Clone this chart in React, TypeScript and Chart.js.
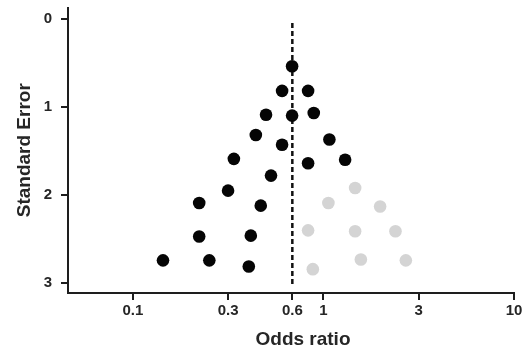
import React, { useEffect, useRef } from "react";
import { Chart, registerables } from "chart.js";

Chart.register(...registerables);

// Studies shown in black (observed)
const blackOR = [0.685, 0.607, 0.831, 0.5, 0.685, 0.89, 0.442, 0.607, 1.075, 0.339, 0.831, 1.3, 0.531, 0.316, 0.223, 0.469, 0.223, 0.416, 0.144, 0.252, 0.406];
const blackSE = [0.54, 0.82, 0.82, 1.09, 1.1, 1.07, 1.32, 1.43, 1.37, 1.59, 1.64, 1.6, 1.78, 1.95, 2.09, 2.12, 2.47, 2.46, 2.74, 2.74, 2.81];

// Studies shown in light grey (imputed)
const grayOR = [1.467, 1.062, 1.984, 0.831, 1.467, 2.388, 1.572, 2.707, 0.88];
const graySE = [1.92, 2.09, 2.13, 2.4, 2.41, 2.41, 2.73, 2.74, 2.84];

// Pooled estimate (dashed line) and its vertical extent
const pooledOR = 0.687;
const pooledLineSE = [0.05, 3.04];

// Axis ticks
const xTickValues = [0.1, 0.316, 0.687, 1, 3.16, 10];
const xTickLabels = ["0.1", "0.3", "0.6", "1", "3", "10"];
const yTickValues = [0, 1, 2, 3];

const xTitle = "Odds ratio";
const yTitle = "Standard Error";

const FONT = "'Liberation Sans', Arial, Helvetica, sans-serif";
const TEXT = "#262626";
const AXIS = "#1e1e1e";

const xTitlePlugin = {
  id: "xTitleShifted",
  afterDraw(chart: any) {
    const { ctx, chartArea } = chart;
    ctx.save();
    ctx.font = `bold 19px ${FONT}`;
    ctx.fillStyle = TEXT;
    ctx.textAlign = "center";
    ctx.textBaseline = "middle";
    ctx.fillText(xTitle, (chartArea.left + chartArea.right) / 2 + 12, chart.height - 13);
    ctx.restore();
  },
};

export default function App() {
  const ref = useRef<HTMLCanvasElement | null>(null);

  useEffect(() => {
    if (!ref.current) return;
    const chart = new Chart(ref.current, {
      type: "scatter",
      data: {
        datasets: [
          {
            label: "Observed",
            data: blackOR.map((x, i) => ({ x, y: blackSE[i] })),
            backgroundColor: "#050505",
            borderWidth: 0,
            pointRadius: 6.3,
            pointHoverRadius: 6.3,
            order: 1,
          },
          {
            label: "Imputed",
            data: grayOR.map((x, i) => ({ x, y: graySE[i] })),
            backgroundColor: "#d4d4d4",
            borderWidth: 0,
            pointRadius: 6.3,
            pointHoverRadius: 6.3,
            order: 1,
          },
          {
            label: "Pooled",
            data: pooledLineSE.map((y) => ({ x: pooledOR, y })),
            showLine: true,
            borderColor: "#111111",
            borderWidth: 2.5,
            borderDash: [5, 3],
            pointRadius: 0,
            order: 2,
          } as any,
        ],
      },
      options: {
        animation: false,
        responsive: true,
        maintainAspectRatio: false,
        layout: { padding: { left: 0, right: 15, top: 7.5, bottom: 0 } },
        plugins: { legend: { display: false }, tooltip: { enabled: false } },
        scales: {
          x: {
            type: "logarithmic",
            min: 0.0457,
            max: 10,
            afterBuildTicks: (s: any) => {
              s.ticks = xTickValues.map((value) => ({ value }));
            },
            afterFit: (s: any) => {
              s.height = 60;
              s.paddingLeft = 0;
              s.paddingRight = 0;
            },
            grid: { drawOnChartArea: false, drawTicks: true, tickLength: 7, color: AXIS, lineWidth: 2 },
            border: { display: true, color: AXIS, width: 2 },
            ticks: {
              autoSkip: false,
              maxRotation: 0,
              padding: 2,
              color: TEXT,
              font: { family: FONT, size: 15, weight: "bold" },
              callback: (_v: any, i: number) => xTickLabels[i],
            },
            title: { display: false },
          },
          y: {
            type: "linear",
            reverse: true,
            min: -0.125,
            max: 3.11,
            afterBuildTicks: (s: any) => {
              s.ticks = yTickValues.map((value) => ({ value }));
            },
            afterFit: (s: any) => {
              s.width = 68;
              s.paddingTop = 0;
              s.paddingBottom = 0;
            },
            grid: { drawOnChartArea: false, drawTicks: true, tickLength: 7, color: AXIS, lineWidth: 2 },
            border: { display: true, color: AXIS, width: 2 },
            ticks: {
              padding: 9,
              color: TEXT,
              font: { family: FONT, size: 15, weight: "bold" },
              callback: (v: any) => String(v),
            },
            title: {
              display: true,
              text: yTitle,
              color: TEXT,
              padding: { top: 13.6, bottom: 0 },
              font: { family: FONT, size: 19, weight: "bold" },
            },
          },
        },
      },
      plugins: [xTitlePlugin],
    } as any);
    return () => chart.destroy();
  }, []);

  return (
    <div style={{ position: "fixed", left: 0, top: 0, width: 529, height: 353, background: "#fff" }}>
      <canvas ref={ref} />
    </div>
  );
}
